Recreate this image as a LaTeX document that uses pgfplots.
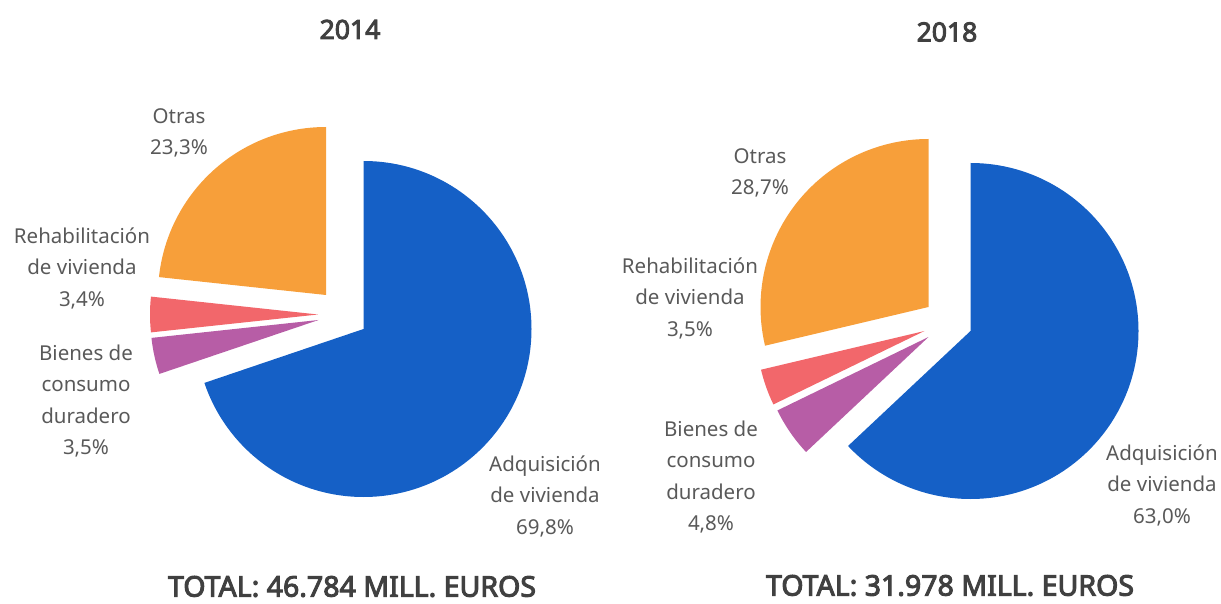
\documentclass[border=0pt]{standalone}
\usepackage{pgfplots}
\pgfplotsset{compat=1.18}
\usetikzlibrary{calc}
\usepackage{fontspec}
\setmainfont{Noto Sans}
\newfontfamily\titlefont{Noto Sans}[FakeBold=3.5]
\definecolor{cBlue}{HTML}{1560C6}
\definecolor{cOrange}{HTML}{F79F3A}
\definecolor{cRed}{HTML}{F2676B}
\definecolor{cPurple}{HTML}{B75DA6}
\definecolor{cText}{HTML}{595959}
\definecolor{cTitle}{HTML}{404040}
% slice: cx, cy, cumulative start %, cumulative end %, colour, explode dx, dy (pt)
\newcommand\slice[7]{%
  \fill[#5] ($(axis cs:#1,#2)+(#6pt,#7pt)$) -- ++({90-3.6*#3}:168pt)
    arc[start angle={90-3.6*#3}, end angle={90-3.6*#4}, radius=168pt] -- cycle;}
\begin{document}
\begin{tikzpicture}
\begin{axis}[x=1pt, y=1pt, xmin=0, xmax=1221, ymin=0, ymax=603,
  hide axis, clip=false, scale only axis]
% 2014: Adquisicion 69.8, Bienes 3.5, Rehabilitacion 3.4, Otras 23.3
\slice{363.5}{274}{0}{69.8}{cBlue}{0}{0}
\slice{363.5}{274}{69.8}{73.3}{cPurple}{-45}{9}
\slice{363.5}{274}{73.3}{76.7}{cRed}{-45.5}{14.5}
\slice{363.5}{274}{76.7}{100}{cOrange}{-37.5}{34}
% 2018: Adquisicion 63.0, Bienes 4.8, Rehabilitacion 3.5, Otras 28.7
\slice{970.5}{272}{0}{63.0}{cBlue}{0}{0}
\slice{970.5}{272}{63.0}{67.8}{cPurple}{-42}{-6}
\slice{970.5}{272}{67.8}{71.3}{cRed}{-46}{0}
\slice{970.5}{272}{71.3}{100}{cOrange}{-42}{24}
\begin{scope}[every node/.style={text=cText, font=\fontsize{20.5}{31.5}\selectfont, align=center}]
\node at (axis cs:179,470) {Otras\\23,3\%};
\node at (axis cs:82,335) {Rehabilitación\\de vivienda\\3,4\%};
\node at (axis cs:86,202) {Bienes de\\consumo\\duradero\\3,5\%};
\node at (axis cs:545,107) {Adquisición\\de vivienda\\69,8\%};
\node at (axis cs:760,430) {Otras\\28,7\%};
\node at (axis cs:690,305) {Rehabilitación\\de vivienda\\3,5\%};
\node at (axis cs:711,126) {Bienes de\\consumo\\duradero\\4,8\%};
\node at (axis cs:1162,118) {Adquisición\\de vivienda\\63,0\%};
\end{scope}
\begin{scope}[every node/.style={text=cTitle, inner sep=0pt}]
\node[font=\fontsize{26.5}{30}\selectfont\titlefont] at (axis cs:350,573.5) {2014};
\node[font=\fontsize{26.5}{30}\selectfont\titlefont] at (axis cs:947,571) {2018};
\node[font=\fontsize{28.5}{32}\selectfont\titlefont] at (axis cs:352,16.5) {TOTAL: 46.784 MILL. EUROS};
\node[font=\fontsize{28.5}{32}\selectfont\titlefont] at (axis cs:950,17.5) {TOTAL: 31.978 MILL. EUROS};
\end{scope}
\end{axis}
\pgfresetboundingbox
\path (current axis.south west) rectangle (current axis.north east);
\end{tikzpicture}
\end{document}
